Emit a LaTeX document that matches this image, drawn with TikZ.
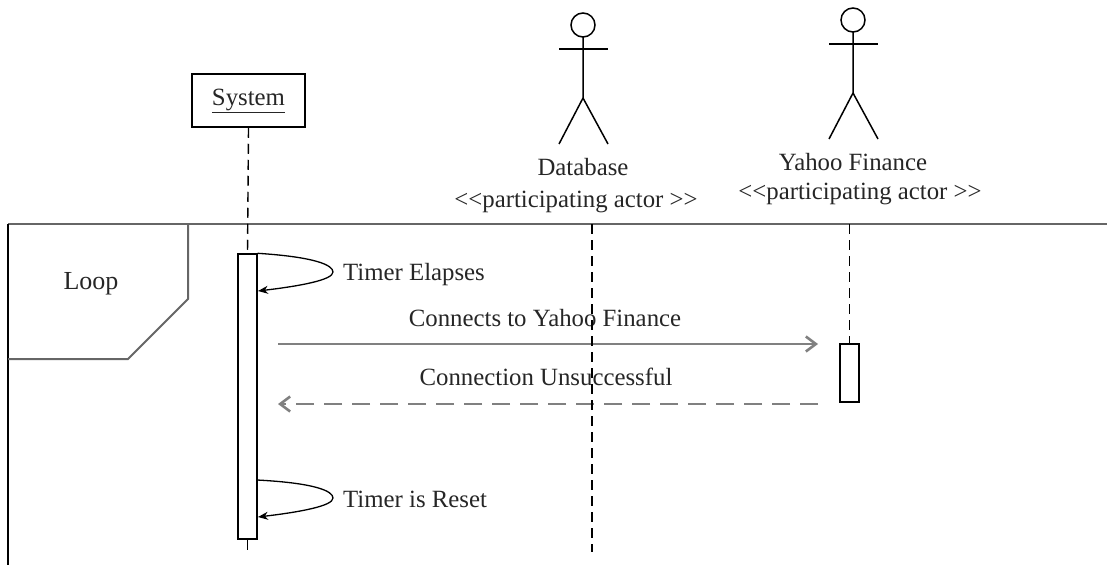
\documentclass[tikz,border=0pt]{standalone}
\usepackage{fontspec}
\setmainfont{Liberation Serif}
\usepackage{tikz}
\usetikzlibrary{arrows.meta}

\newcommand{\msgsize}{\fontsize{24.8}{29}\selectfont}

\begin{document}
\begin{tikzpicture}
  [x=1pt,y=-1pt,
   every node/.style={font=\msgsize,text=black!85,inner sep=0pt}, % one size for all the texts
   objbox/.style={draw,line width=1.5pt,minimum width=113pt,minimum height=53pt},
   actbox/.style={draw,fill=white,line width=1.4pt,minimum width=19pt},
   lifeline/.style={line width=1.4pt,dash pattern=on 10pt off 6pt},
   msg/.style={draw=black!50,line width=2.6pt,-{Straight Barb[length=10pt,width=15pt]}},
   reply/.style={msg,dash pattern=on 18pt off 10pt},
   selfmsg/.style={line width=1.3pt,-{Stealth[length=10pt,width=8pt]}},
   frameline/.style={draw=black!60,line width=2.5pt}]

  \useasboundingbox (0,0) rectangle (1107,565);

  % loop frame
  \draw[frameline] (8,224) -- (1107,224);
  \draw[line width=1.4pt] (8,224) -- (8,565);
  \draw[frameline,line width=2pt] (188,224) -- (188,299) -- (128,359) -- (8,359);
  \node (loop) at (91,284) {\fontsize{26}{30}\selectfont Loop};

  % objects and actors
  \node[objbox] (sys) at (248.5,100.5) {\underline{System}};

  \foreach \x/\y in {583/25, 853/20} {
    \draw[line width=1.5pt] (\x,\y) circle (12pt);
    \draw[line width=1.5pt] (\x-24,\y+24) -- (\x+25,\y+24);
    \draw[line width=1.5pt] (\x,\y+12) -- (\x,\y+73) -- (\x-24,\y+119);
    \draw[line width=1.5pt] (\x,\y+73) -- (\x+25,\y+119);
  }

  \node[anchor=base] (dbname) at (583,175) {Database};
  \node[anchor=base] (dbrole) at (576,207) {<{}<participating actor >{}>};
  \node[anchor=base] (yfname) at (853,170) {Yahoo Finance};
  \node[anchor=base] (yfrole) at (860,199) {<{}<participating actor >{}>};

  % messages
  \coordinate (c1) at (278,344);
  \coordinate (c2) at (818,344);
  \coordinate (r1) at (818,404);
  \coordinate (r2) at (278,404);
  \draw[msg] (c1) -- (c2);
  \draw[reply] (r1) -- (r2);
  \node[anchor=base] (clabel) at (545,326) {Connects to Yahoo Finance};
  \node[anchor=base] (rlabel) at (546,385) {Connection Unsuccessful};

  % lifelines
  \coordinate (dbtop) at (592,224);
  \coordinate (dbend) at (592,552);
  \coordinate (yftop) at (849.5,224);
  \coordinate (sysend) at (247.5,552);
  \draw[lifeline] (dbtop) -- (dbend);

  \node[actbox,minimum height=285pt] (act) at (247.5,396.5) {};
  \node[actbox,minimum height=58pt] (yact) at (849.5,373) {};
  \draw[lifeline] (sys.south) -- (act.north);
  \draw[lifeline] (act.south) -- (sysend);
  \draw[lifeline] (yftop) -- (yact.north);

  % self messages
  \coordinate (te2) at (258,291);
  \coordinate (tr1) at (257,480);
  \coordinate (tr2) at (258,517);
  \draw[selfmsg] (act.north east) .. controls (315,257) and (333,265) .. (333,272)
    .. controls (333,280) and (300,286) .. (te2);
  \draw[selfmsg] (tr1) .. controls (315,483) and (333,491) .. (333,498)
    .. controls (333,506) and (300,512) .. (tr2);
  \node[anchor=base west] (elapse) at (343,280) {Timer Elapses};
  \node[anchor=base west] (reset) at (343,507) {Timer is Reset};

\end{tikzpicture}
\end{document}
